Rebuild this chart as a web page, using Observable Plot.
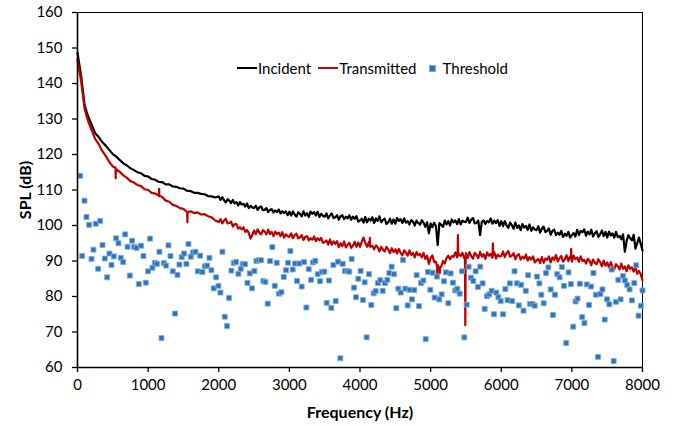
<!DOCTYPE html>
<html>
<head>
<meta charset="utf-8">
<script src="https://cdn.jsdelivr.net/npm/d3@7"></script>
<script src="https://cdn.jsdelivr.net/npm/@observablehq/plot@0.6"></script>
<style>
  body { margin: 0; background: #fff; }
  #wrap { position: relative; width: 676px; height: 426px; font-family: Lato, sans-serif; }
  #legend { position: absolute; left: 237px; top: 59px; display: flex; align-items: center;
            font-size: 15px; line-height: 18px; white-space: nowrap; color: #000; }
  #legend .sw { display: inline-block; width: 20px; height: 2px; margin-right: 1px; }
  #legend .sq { display: inline-block; width: 5px; height: 5px; background: #2f72b5;
                border: 1px solid #7eaee0; margin-right: 7px; }
  g[aria-label="x-axis label"] text, g[aria-label="y-axis label"] text { font-weight: bold; font-size: 16px; }
</style>
</head>
<body>
<div id="wrap">
  <div id="chart"></div>
  <div id="legend">
    <span class="sw" style="background:#000"></span><span>Incident</span>
    <span class="sw" style="background:#c00000;margin-left:7px"></span><span>Transmitted</span>
    <span class="sq" style="margin-left:12px"></span><span>Threshold</span>
  </div>
</div>
<script>
const xTicks = [0, 1000, 2000, 3000, 4000, 5000, 6000, 7000, 8000];
const yTicks = [60, 70, 80, 90, 100, 110, 120, 130, 140, 150, 160];
const xDomain = [0, 8000];
const yDomain = [60, 160];

// spectrum bins: every 50 Hz below 2000 Hz, every 25 Hz from 2000 to 8000 Hz
const lineFreq = d3.range(0, 2000, 50).concat(d3.range(2000, 8001, 25));

const incidentSPL = [
  148.6,142.3,133.9,130.7,128.4,126.0,124.9,123.5,122.5,121.3,
  120.1,119.4,118.4,117.5,116.9,116.1,115.6,115.0,114.7,114.0,
  113.8,113.1,112.9,112.3,112.2,111.6,111.6,111.0,110.9,110.5,
  110.4,109.8,109.7,109.2,109.2,108.9,108.8,108.3,108.2,107.9,
  // 2000 Hz onward, 25 Hz steps
  108.2,107.2,108.0,107.1,106.5,107.4,107.0,106.3,107.2,106.2,106.6,105.6,106.6,105.9,106.1,105.3,106.2,104.9,105.5,105.1,
  104.9,105.6,104.4,105.1,105.4,104.3,104.4,104.9,103.8,104.4,104.6,103.7,104.2,103.8,104.5,103.4,104.0,103.5,104.0,102.9,
  103.9,102.8,104.0,103.1,102.5,103.7,103.3,102.6,104.0,102.8,103.5,102.4,103.9,103.3,103.8,102.8,103.9,102.4,103.3,102.7,
  102.5,103.4,102.0,102.9,103.4,102.1,102.3,102.9,101.6,102.6,102.9,101.8,102.5,102.0,102.9,101.6,102.5,101.9,102.6,101.1,
  101.4,101.9,100.8,102.4,100.9,101.9,101.4,102.3,100.7,102.0,101.3,102.6,100.9,101.6,101.9,100.4,100.9,101.9,100.5,101.7,
  100.5,102.1,101.3,101.8,100.7,102.0,100.8,101.2,100.3,101.5,101.1,100.0,101.4,100.7,100.2,101.5,100.8,99.6,100.9,97.8,
  100.6,99.5,100.8,99.8,94.5,100.7,100.2,99.6,101.4,100.3,101.2,100.0,101.7,100.9,101.4,100.4,101.8,100.3,101.4,101.0,
  101.0,102.2,100.7,101.7,102.1,100.6,100.8,101.4,97.3,101.0,101.4,100.4,101.3,100.9,102.0,100.5,101.4,100.7,101.5,99.9,
  101.2,99.8,101.2,100.0,99.3,100.8,100.1,99.1,100.8,99.3,100.0,98.7,100.4,99.4,99.9,98.8,100.3,98.5,99.5,98.9,
  98.7,99.8,98.0,99.1,99.7,98.1,98.5,99.2,97.4,98.5,98.8,97.3,98.0,97.4,98.5,96.8,97.7,97.1,98.2,96.6,
  97.3,97.9,96.9,98.8,97.3,98.5,98.1,98.9,97.1,98.3,97.5,98.8,96.9,97.8,98.4,96.8,97.5,98.6,97.0,98.2,
  96.6,98.3,97.2,97.8,96.6,98.2,96.7,97.1,96.1,97.5,92.6,95.6,97.3,96.4,95.8,97.4,93.5,95.0,96.6,94.9,
  93.0
];

const transmittedSPL = [
  146.7,140.8,132.9,129.4,126.9,124.4,122.9,121.0,119.6,117.9,
  116.6,115.8,115.1,114.1,113.4,112.5,112.1,111.4,111.1,110.2,
  110.0,109.2,109.0,108.4,108.0,107.0,106.7,105.8,105.5,104.9,
  104.7,103.8,104.0,103.5,103.7,103.1,103.2,102.6,102.3,101.4,
  // 2000 Hz onward, 25 Hz steps
  101.0,101.8,100.6,101.4,101.9,100.6,100.7,101.1,99.7,100.4,100.4,99.1,99.5,98.9,99.5,98.2,98.7,97.9,96.3,97.3,
  98.6,97.6,98.9,98.0,97.5,98.7,98.3,97.5,98.8,97.6,98.2,97.0,98.3,97.6,98.0,97.0,98.1,96.6,97.5,97.0,
  96.8,97.8,96.4,97.3,97.7,96.4,96.7,97.3,95.9,96.8,97.0,95.8,96.4,96.0,96.9,95.6,96.4,95.8,96.5,95.1,
  95.4,95.8,94.6,96.1,94.6,95.5,94.8,95.6,93.9,95.0,94.2,95.5,93.8,94.6,95.1,93.7,94.3,95.4,94.0,95.2,
  94.0,95.5,96.6,95.1,94.0,95.3,94.0,94.3,93.3,94.4,93.9,92.7,94.0,93.2,92.7,94.0,93.3,92.2,93.6,92.5,
  93.3,92.1,93.4,92.3,91.6,93.0,92.4,91.5,93.0,91.7,92.3,91.0,92.5,91.6,92.0,91.0,92.3,90.6,91.5,89.2,
  90.8,91.6,89.7,89.8,88.9,87.7,88.4,90.0,89.3,90.8,91.5,90.5,91.4,91.2,92.4,91.0,92.0,91.4,92.3,90.8,
  92.2,90.9,92.5,91.4,90.7,92.3,91.7,90.8,92.6,91.2,91.9,90.6,92.4,91.5,92.0,90.9,92.5,90.7,91.8,91.3,
  91.4,92.7,91.1,92.2,92.8,91.2,91.5,92.2,90.5,91.6,91.9,90.4,91.2,90.7,91.8,90.1,91.1,90.4,91.3,89.6,
  90.1,90.6,89.4,91.1,89.5,90.7,90.3,91.3,89.6,91.0,90.3,91.7,89.9,90.8,91.4,89.8,90.5,91.6,90.0,91.3,
  89.8,91.5,90.5,91.0,89.8,91.3,90.0,90.3,89.3,90.6,90.1,88.8,90.4,89.5,89.1,90.5,89.7,88.5,90.1,88.7,
  89.6,88.2,89.7,88.4,87.6,89.1,88.5,87.6,89.3,87.8,88.5,87.1,88.8,87.8,88.2,87.0,88.4,86.4,87.2,86.3,
  84.6
];
// narrow spikes of the transmitted spectrum: [frequency Hz, SPL dB]
const transmittedSpikes = [
  [538,116.3],[541,113.3],[544,116.0],[1153,108.3],[1156,110.3],[1159,108.4],
  [1553,103.8],[1556,100.9],[1559,103.7],[4137,94.2],[4140,96.5],[4143,94.1],
  [5092,88.6],[5095,85.8],[5098,88.8],[5127,88.0],[5130,86.6],[5133,88.2],
  [5382,91.4],[5386,97.3],[5390,91.6],[5486,91.0],[5491,71.9],[5496,91.2],
  [5878,91.8],[5882,95.0],[5886,91.6],[6987,91.0],[6990,93.4],[6993,90.9]
];

// threshold: [frequency Hz, SPL dB]
const threshold = [
  [38,114.0],[66,91.4],[99,107.0],[127,102.4],[165,100.2],[198,90.6],[226,93.2],[259,100.5],
  [292,87.8],[321,101.3],[354,94.5],[387,90.7],[420,85.4],[453,92.1],[481,88.9],[514,91.3],
  [547,96.4],[580,95.0],[613,90.9],[646,89.7],[675,97.5],[708,94.0],[741,85.9],[774,95.7],
  [802,94.0],[835,93.7],[868,83.5],[901,94.3],[934,91.4],[967,83.9],[1000,87.1],[1028,96.3],
  [1061,88.1],[1094,89.5],[1127,89.2],[1160,92.6],[1189,68.3],[1222,89.4],[1255,88.7],[1288,94.4],
  [1316,91.4],[1349,87.1],[1382,75.2],[1415,86.1],[1443,89.0],[1476,91.1],[1509,92.1],[1542,89.2],
  [1571,94.8],[1604,91.2],[1637,92.4],[1670,92.6],[1703,87.1],[1736,91.5],[1769,86.9],[1802,88.5],
  [1835,88.7],[1868,90.9],[1896,87.4],[1929,82.3],[1962,85.4],[1995,83.0],[2024,81.1],[2052,92.6],
  [2085,74.3],[2118,71.7],[2146,79.6],[2179,87.3],[2212,89.4],[2245,89.7],[2278,86.4],[2311,87.8],
  [2340,89.2],[2373,89.1],[2406,83.8],[2439,86.5],[2472,82.3],[2505,87.2],[2533,90.0],[2566,90.2],
  [2599,90.2],[2632,84.4],[2660,84.1],[2693,78.0],[2726,90.0],[2759,93.9],[2792,83.0],[2821,89.5],
  [2854,80.8],[2887,81.2],[2920,85.5],[2953,87.4],[2981,89.5],[3014,92.8],[3047,87.6],[3080,89.3],
  [3108,84.4],[3141,89.3],[3175,82.8],[3208,89.7],[3241,76.9],[3274,87.7],[3307,84.7],[3335,89.6],
  [3368,90.0],[3401,86.3],[3434,84.3],[3462,86.9],[3495,87.0],[3528,78.2],[3561,84.5],[3594,76.8],
  [3623,88.9],[3656,78.7],[3689,89.8],[3722,62.6],[3755,89.2],[3788,87.2],[3821,87.2],[3849,87.0],
  [3882,90.6],[3915,82.5],[3943,79.8],[3976,85.0],[4009,87.2],[4042,79.0],[4066,84.0],[4094,68.5],
  [4127,86.3],[4160,77.6],[4193,80.9],[4222,81.5],[4255,83.8],[4288,84.6],[4321,81.6],[4354,83.8],
  [4387,84.7],[4415,86.6],[4448,88.4],[4481,86.3],[4514,76.7],[4543,82.2],[4576,81.1],[4609,90.3],
  [4642,82.2],[4675,77.5],[4703,81.9],[4736,79.2],[4769,81.8],[4802,86.0],[4835,77.3],[4864,83.8],
  [4897,84.5],[4930,68.0],[4963,86.9],[4996,81.9],[5029,86.7],[5057,79.7],[5090,85.6],[5123,79.2],
  [5156,80.6],[5189,84.3],[5217,86.8],[5250,78.1],[5283,86.5],[5316,83.9],[5349,81.7],[5378,82.2],
  [5411,80.8],[5444,87.1],[5477,68.5],[5510,77.7],[5538,88.4],[5571,85.3],[5604,84.4],[5637,87.1],
  [5670,82.7],[5703,88.4],[5736,83.7],[5765,76.5],[5798,80.1],[5831,80.6],[5864,81.6],[5897,75.0],
  [5930,81.1],[5959,79.8],[5992,78.7],[6025,75.0],[6058,82.1],[6089,79.0],[6122,83.7],[6155,78.7],
  [6188,87.1],[6221,83.7],[6249,77.5],[6282,83.3],[6315,76.0],[6347,81.6],[6380,86.0],[6408,77.9],
  [6441,77.9],[6474,77.4],[6507,85.6],[6540,83.7],[6568,80.5],[6601,78.1],[6634,86.6],[6667,88.2],
  [6700,82.0],[6732,74.8],[6761,80.5],[6793,86.3],[6826,85.4],[6859,88.3],[6887,83.0],[6920,66.9],
  [6953,86.8],[6986,83.5],[7019,71.5],[7052,78.6],[7080,79.4],[7113,83.6],[7146,74.2],[7178,72.5],
  [7211,83.4],[7244,77.6],[7272,82.8],[7305,86.6],[7338,80.5],[7371,63.0],[7404,80.7],[7432,82.0],
  [7465,73.5],[7498,79.2],[7530,77.8],[7563,87.6],[7592,61.8],[7624,78.5],[7657,84.7],[7690,79.2],
  [7723,85.8],[7751,84.5],[7784,83.2],[7817,82.0],[7850,78.9],[7883,83.8],[7911,88.8],[7944,74.6],
  [7977,77.4],[8000,81.7]
];

function buildSeries(values, spikes) {
  return values.map((v, i) => ({f: lineFreq[i], spl: v}))
    .concat(spikes.map(([f, v]) => ({f, spl: v})))
    .sort((a, b) => a.f - b.f);
}
const incident = buildSeries(incidentSPL, []);
const transmitted = buildSeries(transmittedSPL, transmittedSpikes);

const chart = Plot.plot({
  width: 676,
  height: 426,
  marginLeft: 77,
  marginRight: 34,
  marginTop: 12,
  marginBottom: 59,
  style: {fontFamily: "Lato, sans-serif", fontSize: "15px", color: "#000", background: "#fff"},
  x: {domain: xDomain},
  y: {domain: yDomain},
  marks: [
    Plot.frame({stroke: "#000", strokeWidth: 1}),
    Plot.line(incident, {x: "f", y: "spl", stroke: "#000", strokeWidth: 2.2}),
    Plot.line(transmitted, {x: "f", y: "spl", stroke: "#c00000", strokeWidth: 2.2}),
    Plot.dot(threshold, {x: d => d[0], y: d => d[1], symbol: "square", r: 2.8,
      fill: "#2f72b5", stroke: "#7eaee0", strokeWidth: 0.9}),
    Plot.ruleX([xDomain[0]], {stroke: "#000", strokeWidth: 1.6}),
    Plot.ruleY([yDomain[0]], {stroke: "#000", strokeWidth: 1.6}),
    Plot.axisX({ticks: xTicks, tickFormat: "d", tickSize: 5, tickPadding: 7, strokeWidth: 1.3,
      label: "Frequency (Hz)", labelAnchor: "center", labelArrow: "none", labelOffset: 50}),
    Plot.axisY({ticks: yTicks, tickFormat: "d", tickSize: 5, tickPadding: 10, strokeWidth: 1.3,
      label: "SPL (dB)", labelAnchor: "center", labelArrow: "none", labelOffset: 58})
  ]
});
document.getElementById("chart").appendChild(chart);
</script>
</body>
</html>
